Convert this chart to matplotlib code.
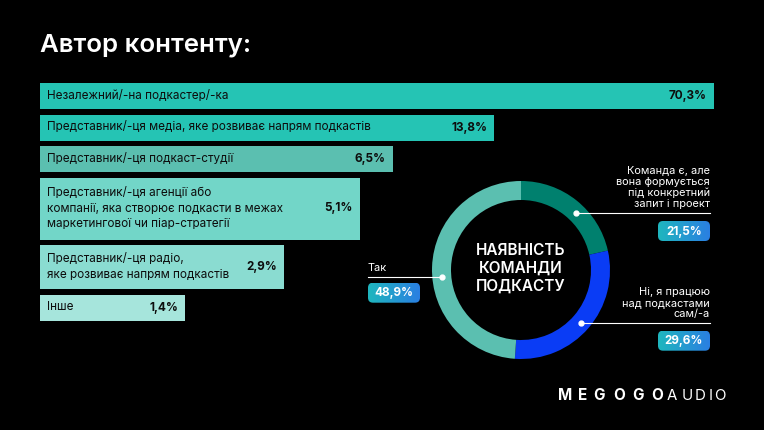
import numpy as np
import matplotlib
matplotlib.use("Agg")
import matplotlib.pyplot as plt
from matplotlib.patches import FancyBboxPatch
from matplotlib.colors import LinearSegmentedColormap

plt.rcParams['font.family'] = ['Inter', 'DejaVu Sans']

# --- data ---
title = "Автор контенту:"
author_labels = [
    "Незалежний/-на подкастер/-ка",
    "Представник/-ця медіа, яке розвиває напрям подкастів",
    "Представник/-ця подкаст-студії",
    "Представник/-ця агенції або\nкомпанії, яка створює подкасти в межах\nмаркетингової чи піар-стратегії",
    "Представник/-ця радіо,\nяке розвиває напрям подкастів",
    "Інше",
]
author_values = [70.3, 13.8, 6.5, 5.1, 2.9, 1.4]
author_colors = ["#25c4b4", "#25c4b4", "#5bbfb0", "#72d6c8", "#8adcd1", "#a6e5dc"]

team_title = "НАЯВНІСТЬ\nКОМАНДИ\nПОДКАСТУ"
team_labels = ["Команда є, але\nвона формується\nпід конкретний\nзапит і проект",
               "Ні, я працюю\nнад подкастами\nсам/-а",
               "Так"]
team_values = [21.5, 29.6, 48.9]
team_colors = ["#00806e", "#0a3cf5", "#5bbfb0"]

def pct(v):
    return f"{v:.1f}%".replace(".", ",")

W, H = 764, 430
fig = plt.figure(figsize=(W / 100, H / 100), dpi=100, facecolor="black")

def px_axes(x0, y0, x1, y1, **kw):
    # axes placed by pixel box (top-left origin)
    return fig.add_axes([x0 / W, 1 - y1 / H, (x1 - x0) / W, (y1 - y0) / H], **kw)

# --- bars (log scale, so the small shares stay readable) ---
ax = px_axes(40, 80, 740, 326)
ax.set_facecolor("black")
ax.set_xscale("log")
px_per_e = 135.0
base = np.exp(-100 / px_per_e)
ax.set_xlim(base, base * np.exp(700 / px_per_e))
ax.set_ylim(326, 80)
ax.axis("off")

y = 83
for lab, val, col in zip(author_labels, author_values, author_colors):
    n = lab.count("\n") + 1
    h = 26 + 18 * (n - 1)
    ax.barh(y + h / 2, val - base, left=base, height=h, color=col)
    ax.annotate(lab, xy=(0, y + h / 2), xycoords=("axes fraction", "data"),
                xytext=(7, 0), textcoords="offset pixels", ha="left", va="center",
                fontsize=8.45, color="#0d0d0d", linespacing=1.35)
    ax.annotate(pct(val), xy=(val, y + h / 2), xytext=(-7, 0), textcoords="offset pixels",
                ha="right", va="center", fontsize=8.45, fontweight="bold", color="#0d0d0d")
    y += h + 5.5

# --- donut ---
cx, cy, R = 521, 270, 89
dax = px_axes(cx - 90, cy - 90, cx + 90, cy + 90)
dax.pie(team_values, colors=team_colors, startangle=90, counterclock=False,
        radius=R / 90, wedgeprops=dict(width=19 / 90, linewidth=0))
dax.set_xlim(-1, 1)
dax.set_ylim(-1, 1)
dax.set_aspect("equal")
dax.text(0, 0.02, team_title, ha="center", va="center", color="white",
         fontsize=11, fontweight="semibold", linespacing=1.25)

# --- overlay in pixel coords ---
ov = fig.add_axes([0, 0, 1, 1])
ov.axis("off")
ov.patch.set_alpha(0)

fig.text(40 / W, 1 - 45 / H, title, color="white", fontsize=18.6, fontweight="semibold",
         ha="left", va="center")

grad = np.linspace(0, 1, 64).reshape(1, -1)
badge_cmap = LinearSegmentedColormap.from_list("badge", ["#1fb6be", "#2a7fe2"])

def badge(x0, y0, text):
    w, h = 52, 20
    p = FancyBboxPatch((x0, y0), w, h, boxstyle="round,pad=0,rounding_size=5",
                       facecolor="none", edgecolor="none")
    ov.add_patch(p)
    im = ov.imshow(grad, cmap=badge_cmap, extent=(x0, x0 + w, y0 + h, y0), aspect="auto")
    im.set_clip_path(p)
    ov.text(x0 + w / 2, y0 + h / 2 + 0.5, text, color="white", fontsize=8.45,
            fontweight="bold", ha="center", va="center")

r_mid = R - 19 / 2
# (line y, side) for each slice label
callouts = [(213, "right"), (322.7, "right"), (276.7, "left")]
for lab, val, (ly, side) in zip(team_labels, team_values, callouts):
    dx = np.sqrt(r_mid ** 2 - (ly - cy) ** 2)
    if side == "right":
        dotx, x_end = cx + dx, 710
        ov.plot([dotx, x_end], [ly, ly], color="white", lw=0.8)
        ov.text(x_end, ly - 4, lab, color="white", fontsize=7.9,
                ha="right", va="bottom", linespacing=1.12)
        badge(x_end - 52, ly + 8, pct(val))
    else:
        dotx, x_end = cx - dx, 368
        ov.plot([x_end, dotx], [ly, ly], color="white", lw=0.8)
        ov.text(x_end, ly - 4, lab, color="white", fontsize=7.9,
                ha="left", va="bottom")
        badge(x_end, ly + 6, pct(val))
    ov.plot(dotx, ly, "o", color="white", ms=3.5)

# --- logo ---
for xc, ch in zip([565, 582.5, 599.5, 619, 638, 657.5], "MEGOGO"):
    ov.text(xc, 396, ch, color="white", fontsize=11, fontweight="bold",
            ha="center", va="center")
for xc, ch in zip([671.5, 687, 700.5, 711, 719.5], "AUDIO"):
    ov.text(xc, 396, ch, color="white", fontsize=10.8, fontweight="normal",
            ha="center", va="center")

ov.set_xlim(0, W)
ov.set_ylim(H, 0)
fig.savefig("out.png", dpi=100, facecolor="black")
